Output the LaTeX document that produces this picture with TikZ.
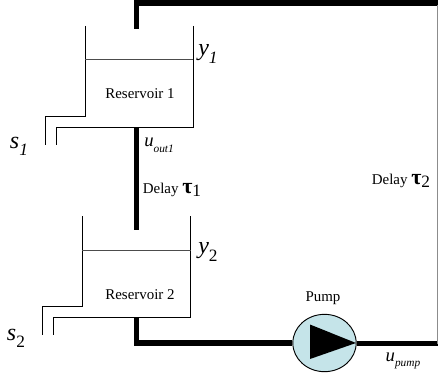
\documentclass[tikz,border=0pt]{standalone}
\usepackage{fontspec}
\setmainfont{Liberation Serif}
\usetikzlibrary{shapes.geometric}
\definecolor{pumpfill}{HTML}{C5E4E9}
\newcommand{\sbs}[1]{\raisebox{-0.3em}{\fontsize{8.5pt}{10pt}\selectfont #1}}
\newcommand{\sbb}[1]{\raisebox{-0.3em}{\fontsize{13pt}{14pt}\selectfont #1}}
\newcommand{\taus}[1]{{\fontsize{16.5pt}{18pt}\selectfont\bfseries τ}\raisebox{-0.2em}{\fontsize{13pt}{14pt}\selectfont #1}}
\tikzset{x=0.75pt,y=-0.75pt,
 wall/.style={line width=0.75pt,line join=miter,draw=black},
 levelline/.style={line width=0.75pt,draw=black!70},
 pipe/.style={line width=4.2pt,draw=black,line join=miter},
 thinpipe/.style={line width=1.1pt,draw=black!45},
 lab/.style={inner sep=0pt,font=\fontsize{11.2pt}{13pt}\selectfont},
 sym/.style={inner sep=0pt,font=\fontsize{18pt}{20pt}\selectfont\itshape},
 usym/.style={inner sep=0pt,font=\fontsize{14pt}{16pt}\selectfont\itshape}}
\begin{document}
\begin{tikzpicture}
\useasboundingbox (0,0) rectangle (438,378);
% reservoir 1
\draw[wall] (85,26) -- (85,116.5) -- (45.5,116.5) -- (45.5,145);
\draw[wall] (193,26) -- (193,127.5) -- (56,127.5) -- (56,145);
\draw[levelline] (85,60) -- (193,60);
\node[lab] (r1) at (140,94) {Reservoir 1};
% reservoir 2
\draw[wall] (82,216) -- (82,306.5) -- (42.7,306.5) -- (42.7,335);
\draw[wall] (190.5,216) -- (190.5,317.5) -- (53.3,317.5) -- (53.3,335);
\draw[levelline] (82,250) -- (190.5,250);
\node[lab] (r2) at (140,295) {Reservoir 2};
% pump and connectors
\node[ellipse,draw=black,line width=0.7pt,fill=pumpfill,minimum width=47.5pt,minimum height=43pt,inner sep=0pt] (pump) at (324.5,343) {};
\coordinate (top1) at (136.5,29);
\coordinate (corner1) at (136.5,3);
\coordinate (topR) at (438,3);
\coordinate (outA) at (136.5,127.5);
\coordinate (inB) at (136.5,230);
\coordinate (outB) at (136.5,317.5);
\coordinate (cornerB) at (136.5,343);
\coordinate (cornerR) at (437.5,343.5);
\coordinate (pumpR) at (357,343.5);
\draw[pipe] (top1) -- (corner1) -- (topR);
\draw[pipe] (outA) -- (inB);
\draw[pipe] (outB) -- (cornerB) -- (pump.west);
\draw[pipe] (pumpR) -- (cornerR);
\draw[thinpipe] (437.5,5) -- (cornerR);
\fill[black] (310,324.5) -- (310,359) -- (356,343) -- cycle;
% labels
\node[lab] (pumpl) at (323,298) {Pump};
\node[sym] (y1) at (208,54) {y\sbb{1}};
\node[sym] (y2) at (208,252) {y\sbb{\upshape 2}};
\node[sym] (s1) at (19,146) {s\sbb{1}};
\node[sym] (s2) at (16,338) {s\sbb{\upshape 2}};
\node[usym] (uo) at (159,145) {u\sbs{out1}};
\node[usym] (up) at (403,361) {u\sbs{pump}};
\node[lab] (d1) at (172,190) {Delay \taus{1}};
\node[lab] (d2) at (401,181) {Delay \taus{2}};
\end{tikzpicture}
\end{document}
